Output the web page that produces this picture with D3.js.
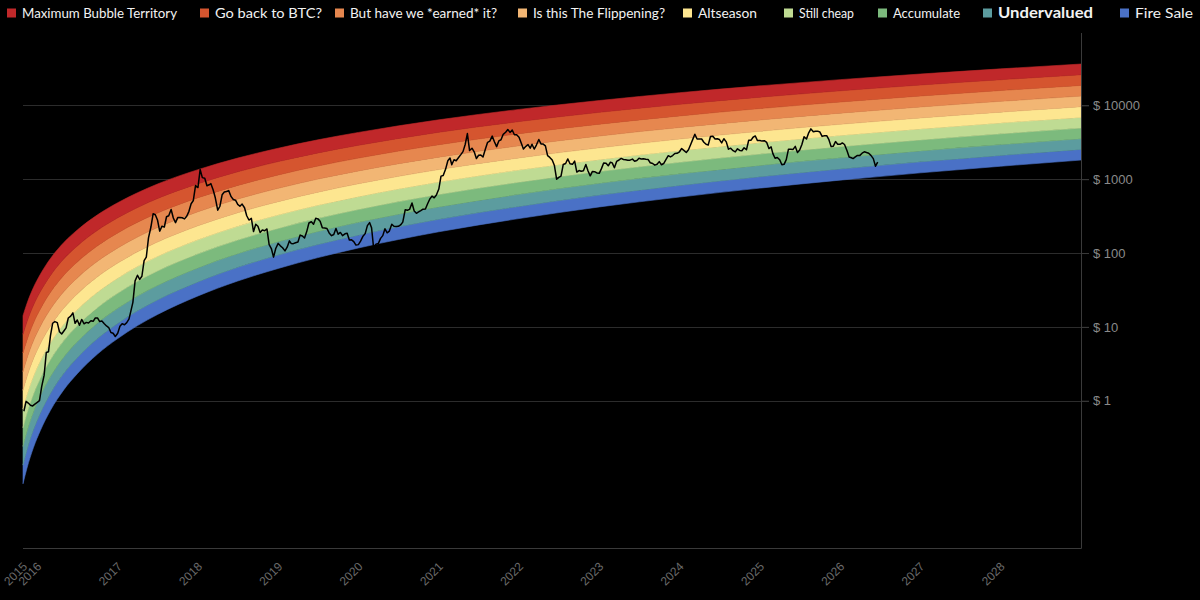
<!DOCTYPE html>
<html><head><meta charset="utf-8">
<script src="https://cdn.jsdelivr.net/npm/d3@7"></script>
<style>
html,body{margin:0;padding:0;background:#000;}
svg{display:block;}
</style></head><body>
<svg id="chart" width="1200" height="600"></svg>
<script>
// ---------- DATA ----------
// legend / band labels, top band first
const bandLabels = ["Maximum Bubble Territory","Go back to BTC?","But have we *earned* it?","Is this The Flippening?","Altseason","Still cheap","Accumulate","Undervalued","Fire Sale"];
const bandColors = ["#c0282a","#d5552f","#e6874f","#f2b674","#fde690","#bfdb93","#7cba7d","#5c9c9f","#4a71c6"];

// rainbow envelope (bottom of "Fire Sale", top of "Maximum Bubble Territory"), USD
const bandDates = ["2015-10-28","2015-11-15","2015-12-15","2016-01-15","2016-03-01","2016-05-01","2016-07-01","2016-10-01","2017-01-01","2017-04-01","2017-07-01","2018-01-01","2018-07-01","2019-01-01","2019-07-01","2020-01-01","2021-01-01","2022-01-01","2023-01-01","2024-01-01","2025-01-01","2026-01-01","2027-01-01","2028-01-01","2029-01-01"];
const bandLower = [0.075,0.122,0.234,0.395,0.741,1.41,2.32,4.28,6.95,10.4,14.7,26.2,41.8,61.8,86.7,117,194,293,421,573,757,971,1219,1497,1816];
const bandUpper = [14.2,20.7,34.4,51.6,84.3,139,205,329,480,655,860,1346,1932,2624,3412,4296,6368,8810,11620,14820,18380,22290,26550,31190,36250];

// price, sampled on the 1st, 11th and 21st of each month
const eth2015 = [0.72,0.98,0.93,0.87,0.85,0.90]; // from November
const eth2016 = [0.95,1.0,1.55, 2.2,4.5,4.6, 7.6,11.2,11.8, 11.4,8.6,8.0, 8.8,9.7,13.2, 14.0,15.5,11.2, 12.4,10.5,12.6, 11.0,11.5,11.3, 12.1,11.9,13.2, 13.2,11.8,12.0, 11.0,10.3,9.8, 8.4,8.2,7.4];
const eth2017 = [8.2,10.2,11.0, 10.7,11.4,12.7, 16.0,21.5,42.0, 50.0,44.0,48.5, 79,88,160, 225,340,330, 280,198,230, 225,310,320, 388,298,258, 302,303,300, 290,315,367, 465,515,820];
const eth2018 = [770,1350,1050, 1030,815,840, 870,720,560, 380,430,615, 670,680,700, 580,530,520, 455,430,460, 410,320,280, 295,195,245, 230,190,205, 200,212,130, 115,88,115];
const eth2019 = [135,125,118, 107,120,146, 135,134,138, 141,175,170, 160,195,255, 265,245,295, 290,270,220, 218,215,187, 172,178,215, 180,190,172, 182,185,150, 151,143,128];
const eth2020 = [130,145,167, 183,235,258, 220,112,132, 135,158,172, 213,188,198, 245,230,228, 230,240,262, 385,380,390, 475,370,345, 360,375,392, 395,465,540, 590,560,610];
const eth2021 = [735,1100,1120, 1370,1780,1935, 1570,1830,1780, 1970,2150,2360, 2950,4150,2440, 2630,2350,1900, 2110,2130,2000, 2560,3160,3280, 3830,3210,2760, 3300,3420,4050, 4320,4700,4300, 4630,4000,4000];
const eth2022 = [3700,3080,2560, 2790,2940,2630, 2970,2560,2900, 3450,3000,2990, 2830,2080,1970, 1820,1530,1000, 1060,1100,1580, 1630,1880,1620, 1590,1760,1250, 1310,1280,1300, 1580,1290,1110, 1275,1265,1215];
const eth2023 = [1200,1390,1660, 1640,1520,1700, 1660,1430,1740, 1820,1910,1850, 1830,1800,1810, 1870,1750,1790, 1920,1880,1890, 1860,1850,1670, 1630,1550,1590, 1730,1570,1630, 1850,2080,2000, 2090,2230,2240];
const eth2024 = [2350,2600,2460, 2300,2500,2950, 3430,4060,3500, 3500,3500,3160, 2970,2910,3790, 3810,3500,3520, 3440,3100,3530, 3200,2550,2630, 2430,2340,2580, 2450,2430,2660, 2510,3370,3360, 3700,3850,3330];
const eth2025 = [3350,3280,3320, 3150,2600,2740, 2220,1920,1970, 1830,1570,1590, 1840,2550,2550, 2530,2780,2300, 2490,2950,3760, 3500,4250,4800, 4380,4460,4470, 4350,3800,3880, 3880,3430,2760, 2800,3230,2980];
const eth2026 = [2970,3100,2950, 2450,2000,1950, 1900,2000,2100, 2100,2250,2350, 2300,2250,2100, 1900,1500,1700];

const yTickValues = [1,10,100,1000,10000];
const xTickYears = [2016,2017,2018,2019,2020,2021,2022,2023,2024,2025,2026,2027,2028];
const xStartLabel = "2015";

// ---------- LAYOUT ----------
const W = 1200, H = 600;
const plot = {left: 23, right: 1081, top: 31.5, bottom: 548.4};
const legendX = [7,200,335,518,683,784,878,983,1120];
const legendTextW = [155,107,147,132,59,55,67,95,58];
const boldLegend = "Undervalued";

const parse = d3.timeParse("%Y-%m-%d");
const svg = d3.select("#chart");
svg.append("rect").attr("width", W).attr("height", H).attr("fill", "#000");

const x = d3.scaleTime()
  .domain([parse("2015-10-28"), parse("2029-01-01")])
  .range([plot.left, plot.right]);
const y = d3.scaleLog()
  .domain([0.01, 100000])
  .range([plot.bottom, plot.top]);

// ---------- price series assembly ----------
const days = [1, 11, 21];
function yearSeries(year, vals, startMonth) {
  return vals.map((v, i) => {
    const m = startMonth + Math.floor(i / 3);
    return {date: new Date(year, m, days[i % 3]), value: v};
  });
}
const price = [].concat(
  yearSeries(2015, eth2015, 10),
  yearSeries(2016, eth2016, 0), yearSeries(2017, eth2017, 0),
  yearSeries(2018, eth2018, 0), yearSeries(2019, eth2019, 0),
  yearSeries(2020, eth2020, 0), yearSeries(2021, eth2021, 0),
  yearSeries(2022, eth2022, 0), yearSeries(2023, eth2023, 0),
  yearSeries(2024, eth2024, 0), yearSeries(2025, eth2025, 0),
  yearSeries(2026, eth2026, 0)
);

// ---------- grid ----------
const grid = svg.append("g");
grid.selectAll("line").data(yTickValues).join("line")
  .attr("x1", plot.left).attr("x2", plot.right + 8)
  .attr("y1", d => Math.round(y(d)) + 0.5).attr("y2", d => Math.round(y(d)) + 0.5)
  .attr("stroke", "#2c2c2c").attr("stroke-width", 1);

// ---------- rainbow bands ----------
const env = bandDates.map((d, i) => ({date: parse(d), lo: Math.log10(bandLower[i]), hi: Math.log10(bandUpper[i])}));
const nBands = bandLabels.length;
const bandsG = svg.append("g");
for (let b = 0; b < nBands; b++) {
  // b = 0 is the bottom band (Fire Sale)
  const f0 = b / nBands, f1 = (b + 1) / nBands;
  const area = d3.area()
    .x(d => x(d.date))
    .y0(d => y(Math.pow(10, d.lo + f0 * (d.hi - d.lo))))
    .y1(d => y(Math.pow(10, d.lo + f1 * (d.hi - d.lo))))
    .curve(d3.curveMonotoneX);
  bandsG.append("path").datum(env)
    .attr("d", area)
    .attr("fill", bandColors[nBands - 1 - b])
    .attr("stroke", bandColors[nBands - 1 - b]).attr("stroke-width", 0.6);
}

// ---------- price line ----------
svg.append("path").datum(price)
  .attr("d", d3.line().x(d => x(d.date)).y(d => y(d.value)))
  .attr("fill", "none").attr("stroke", "#000").attr("stroke-width", 1.5)
  .attr("stroke-linejoin", "round");

// ---------- axes ----------
const yAxis = d3.axisRight(y).tickValues(yTickValues).tickSize(8).tickPadding(4)
  .tickFormat(d => "$ " + d);
const gy = svg.append("g").attr("transform", `translate(${plot.right},0)`).call(yAxis);
gy.select(".domain").remove();
gy.selectAll(".tick line").attr("stroke", "#3a3a3a");
gy.selectAll(".tick text").attr("fill", "#8a8a8a")
  .style("font-family", "'Liberation Sans', Arial, sans-serif").style("font-size", "13px");
svg.append("line").attr("x1", plot.right + 0.5).attr("x2", plot.right + 0.5)
  .attr("y1", 33).attr("y2", plot.bottom).attr("stroke", "#3a3a3a");
svg.append("line").attr("x1", plot.left).attr("x2", plot.right + 0.5)
  .attr("y1", Math.round(plot.bottom) + 0.5).attr("y2", Math.round(plot.bottom) + 0.5).attr("stroke", "#3a3a3a");

const xTicks = [{date: x.domain()[0], label: xStartLabel}]
  .concat(xTickYears.map(yr => ({date: new Date(yr, 0, 1), label: String(yr)})));
svg.append("g").selectAll("text").data(xTicks).join("text")
  .attr("transform", d => `translate(${x(d.date) + 5},${plot.bottom + 19}) rotate(-45)`)
  .attr("text-anchor", "end")
  .attr("fill", "#6a6a6a")
  .style("font-family", "'Liberation Sans', Arial, sans-serif").style("font-size", "12px")
  .text(d => d.label);

// ---------- legend ----------
const lg = svg.append("g").selectAll("g").data(bandLabels).join("g")
  .attr("transform", (d, i) => `translate(${legendX[i]},0)`);
lg.append("rect").attr("x", 0).attr("y", 8.5).attr("width", 9).attr("height", 9)
  .attr("fill", (d, i) => bandColors[i]);
lg.append("text").attr("x", 15).attr("y", 18)
  .attr("fill", "#f2f2f2")
  .attr("textLength", (d, i) => legendTextW[i])
  .attr("lengthAdjust", "spacingAndGlyphs")
  .style("font-family", "Lato, 'Open Sans', sans-serif")
  .style("font-size", d => d === boldLegend ? "16px" : "14px")
  .style("font-weight", d => d === boldLegend ? 700 : 400)
  .text(d => d);
</script>
</body></html>
